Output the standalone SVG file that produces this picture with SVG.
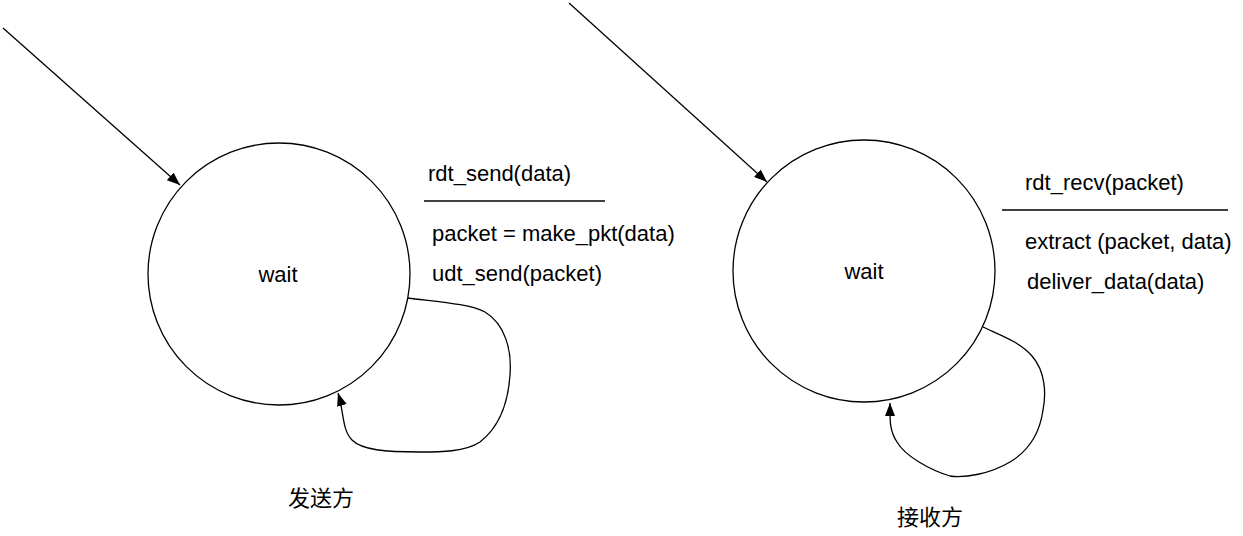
<svg xmlns="http://www.w3.org/2000/svg" width="1243" height="536" viewBox="0 0 1243 536">
  <style>
    .node { fill: #ffffff; stroke: #000000; stroke-width: 1.3; }
    .edge { fill: none; stroke: #000000; stroke-width: 1.3; marker-end: url(#arrow); }
    .rule { stroke: #000000; stroke-width: 1.3; }
    .t { font-family: "Liberation Sans", Arial, sans-serif; font-size: 22px; fill: #000000; }
    .cjk { font-family: "Liberation Sans", "Noto Sans CJK SC", sans-serif; font-size: 22px; fill: #000000; }
  </style>
  <defs>
    <marker id="arrow" viewBox="0 0 13 10" refX="13" refY="5" markerWidth="13" markerHeight="10" markerUnits="userSpaceOnUse" orient="auto">
      <path d="M0,0 L13,5 L0,10 Z" fill="#000000"/>
    </marker>
  </defs>
  <rect width="1243" height="536" fill="#ffffff"/>

  <g id="sender-wait">
    <circle class="node" cx="279" cy="274" r="131"/>
    <text class="t" x="278" y="282" text-anchor="middle">wait</text>
  </g>
  <g id="receiver-wait">
    <circle class="node" cx="864" cy="271" r="131"/>
    <text class="t" x="864" y="279" text-anchor="middle">wait</text>
  </g>

  <g id="sender-label">
    <text class="t" x="428" y="181">rdt_send(data)</text>
    <line class="rule" x1="424" y1="201" x2="605" y2="201"/>
    <text class="t" x="432" y="241">packet = make_pkt(data)</text>
    <text class="t" x="432" y="281">udt_send(packet)</text>
  </g>
  <g id="receiver-label">
    <text class="t" x="1025" y="190">rdt_recv(packet)</text>
    <line class="rule" x1="1002" y1="210" x2="1228" y2="210"/>
    <text class="t" x="1025" y="249">extract (packet, data)</text>
    <text class="t" x="1027" y="289">deliver_data(data)</text>
  </g>

  <g id="sender-caption">
    <text class="cjk" x="288" y="506">发送方</text>
  </g>
  <g id="receiver-caption">
    <text class="cjk" x="897" y="525">接收方</text>
  </g>

  <g id="connectors">
    <path class="edge" d="M3,28 L180,185"/>
    <path class="edge" d="M569,3 L767,182"/>
    <path class="edge" d="M408,298 C440,302 470,304 485,312 C505,324 512,350 510,375 C508,405 498,428 480,442 C465,452 440,452 420,452 C385,452 362,450 352,440 C342,430 344,412 338,393"/>
    <path class="edge" d="M983,327 C1000,335 1020,342 1032,356 C1046,372 1046,395 1043,410 C1040,432 1030,450 1010,462 C990,474 965,478 950,476 C930,470 905,456 897,442 C889,430 890,418 890,403"/>
  </g>
</svg>
